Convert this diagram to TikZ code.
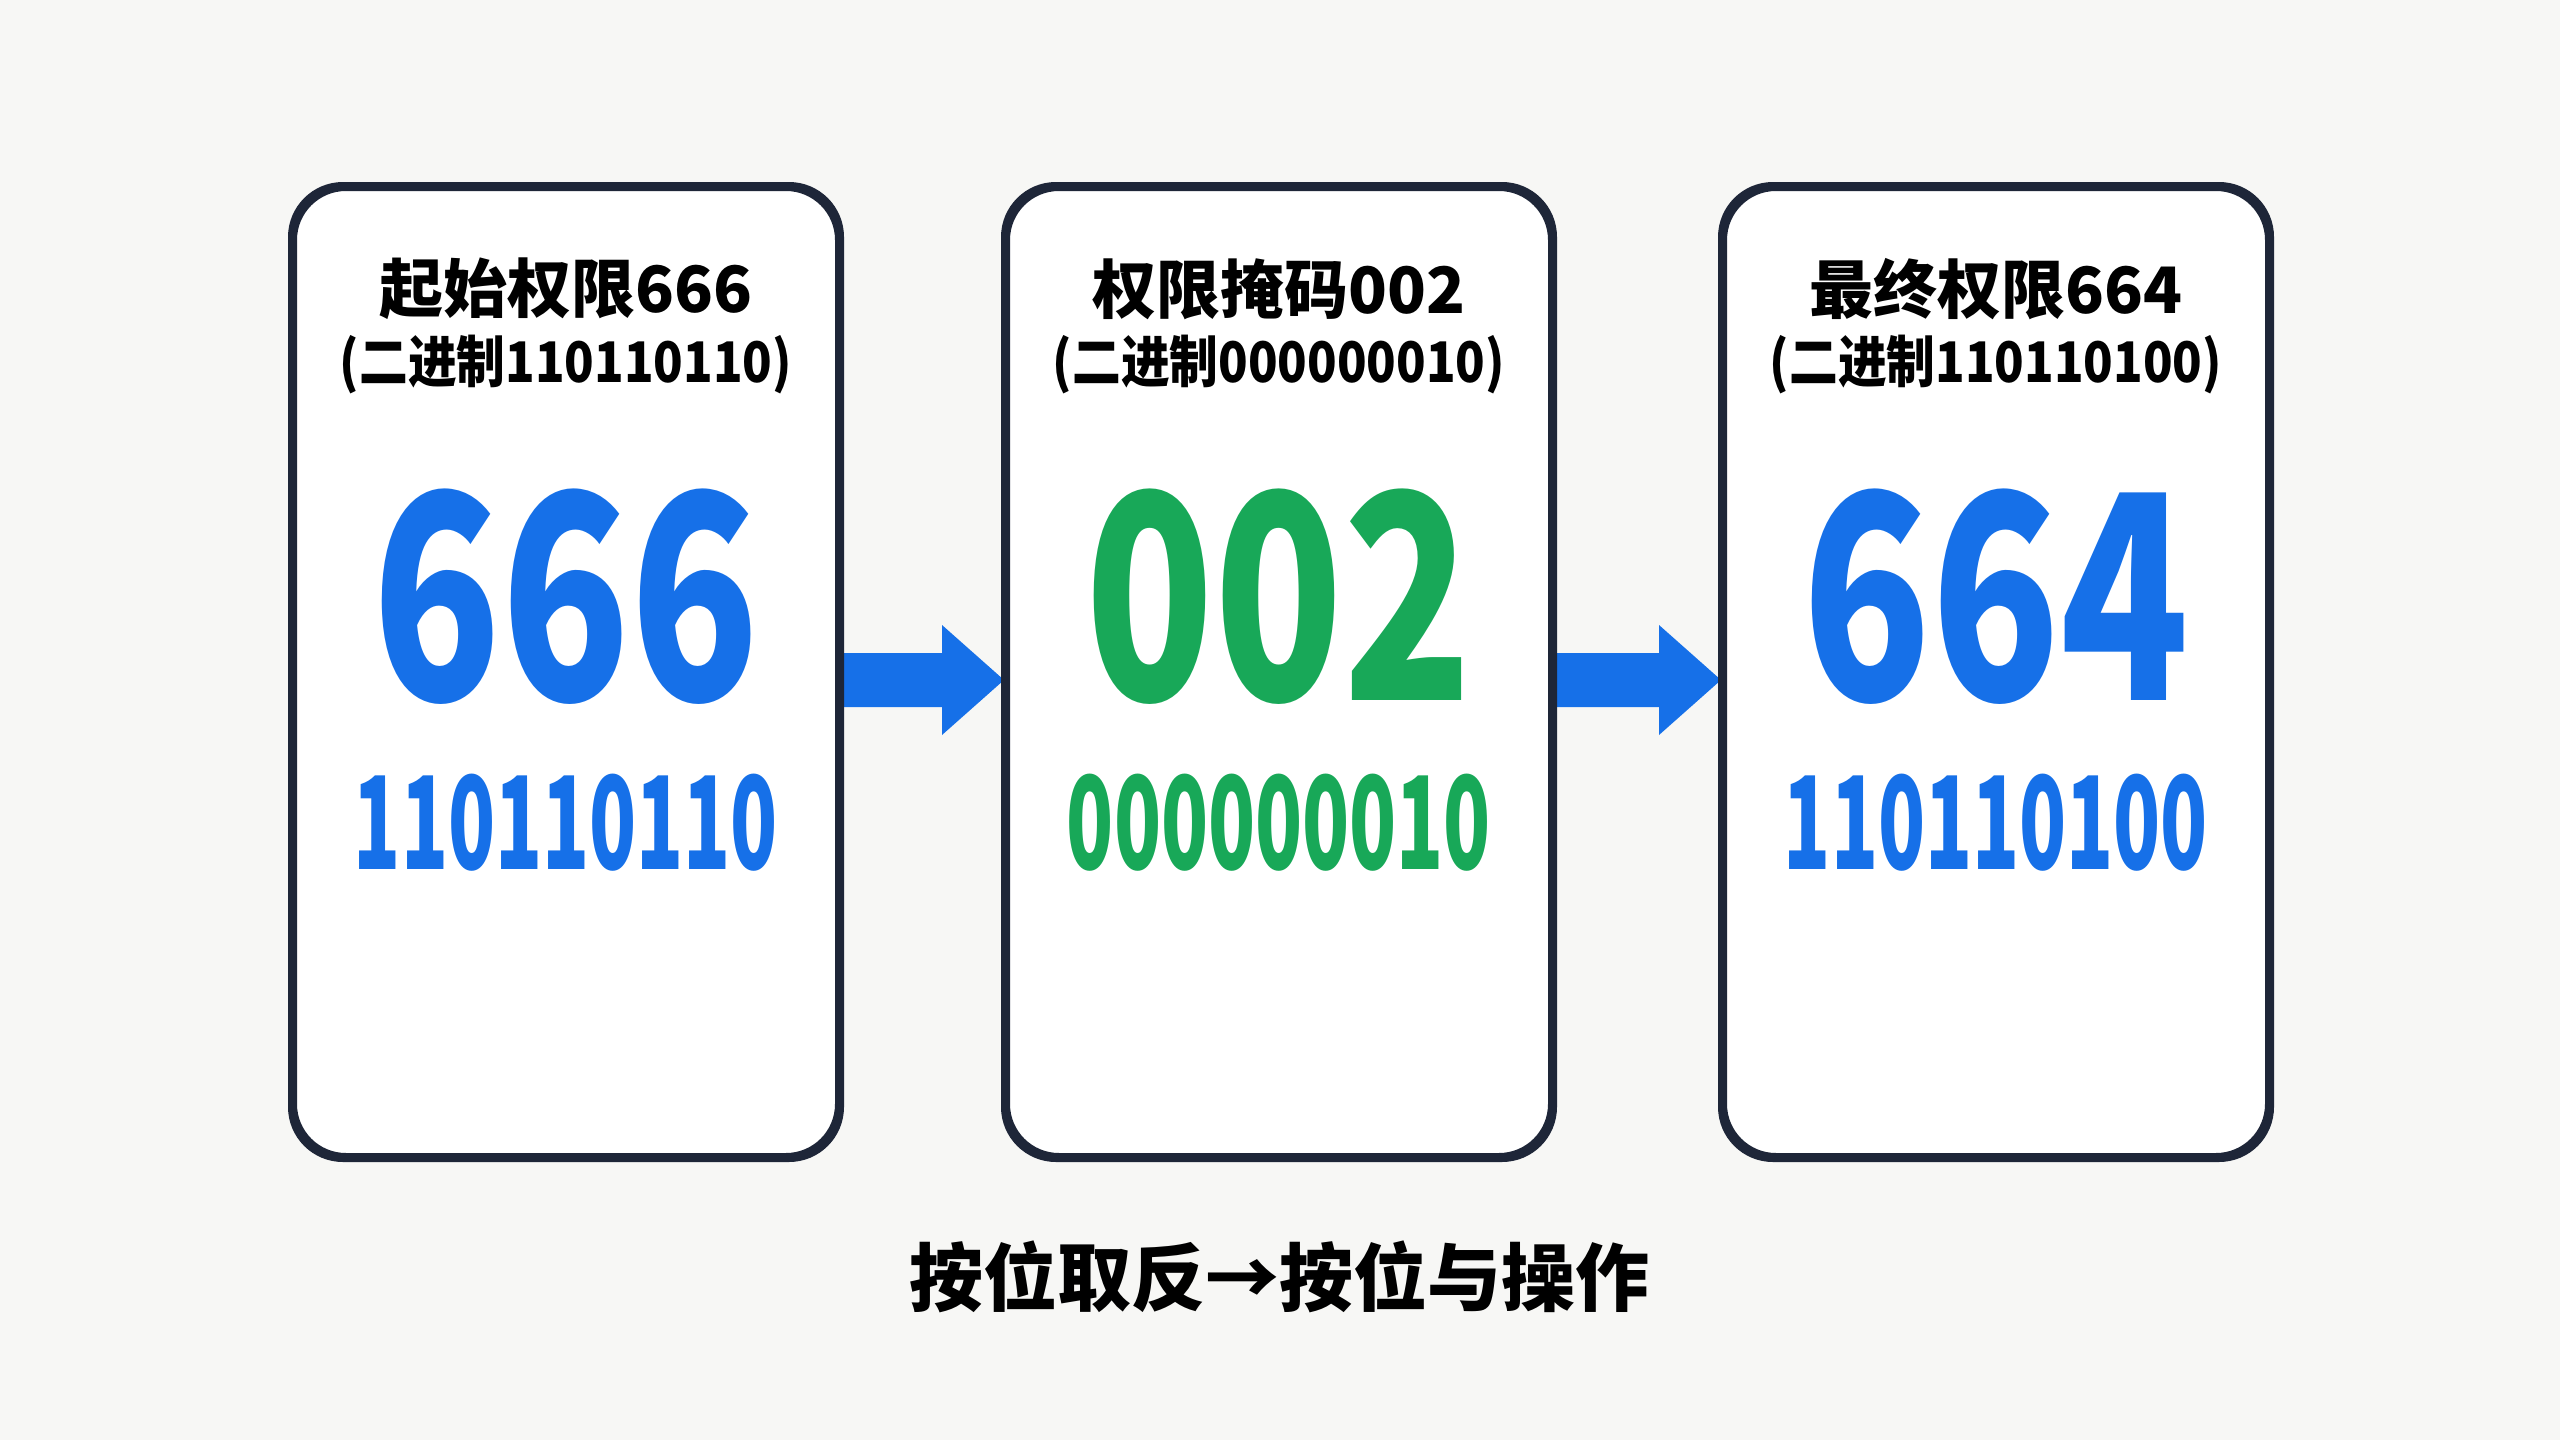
\documentclass[tikz,border=0pt]{standalone}
\usepackage{fontspec}
\newfontfamily\cjk{Noto Sans CJK SC}
\newfontfamily\cjkblack{Noto Sans CJK SC Black}
\usetikzlibrary{calc}
\definecolor{bg}{HTML}{F7F7F5}
\definecolor{frame}{HTML}{1E2638}
\definecolor{bblue}{HTML}{1670E8}
\definecolor{bgreen}{HTML}{18A858}
\tikzset{
  card/.style={draw=frame, line width=6pt, fill=white, rounded corners=52pt,
    minimum width=544pt, minimum height=968pt, inner sep=0pt},
  cardline/.style={draw=frame, line width=6pt, rounded corners=52pt},
  titleA/.style={font=\cjk\bfseries\fontsize{64}{64}\selectfont, text=black, inner sep=0pt},
  titleB/.style={font=\cjk\bfseries\fontsize{56}{56}\selectfont, text=black, inner sep=0pt},
  bignum/.style={font=\cjkblack\fontsize{286}{286}\selectfont, inner sep=0pt},
  binnum/.style={font=\cjk\bfseries\fontsize{129}{129}\selectfont, inner sep=0pt},
  caption/.style={font=\cjk\bfseries\fontsize{74}{74}\selectfont, text=black, inner sep=0pt},
  flowarrow/.style={fill=bblue}
}
\newcommand{\cond}[2]{\scalebox{#1}[1]{#2}}
\begin{document}
\begin{tikzpicture}[x=1pt,y=-1pt]
\fill[bg] (0,0) rectangle (2560,1440);
\useasboundingbox (0,0) rectangle (2560,1440);
% cards
\node[card] (b1) at (566,672) {};
\node[card] (b2) at (1279,672) {};
\node[card] (b3) at (1996,672) {};
% arrows
\coordinate (a1s) at ($(b1.east)+(0,8)$);
\coordinate (a1e) at ($(b2.west)+(0,8)$);
\fill[flowarrow] ($(a1s)+(0,-27)$) -- ($(a1e)+(-62,-27)$) -- ($(a1e)+(-62,-55)$) -- (a1e)
  -- ($(a1e)+(-62,55)$) -- ($(a1e)+(-62,27)$) -- ($(a1s)+(0,27)$) -- cycle;
\coordinate (a2s) at ($(b2.east)+(0,8)$);
\coordinate (a2e) at ($(b3.west)+(0,8)$);
\fill[flowarrow] ($(a2s)+(0,-27)$) -- ($(a2e)+(-62,-27)$) -- ($(a2e)+(-62,-55)$) -- (a2e)
  -- ($(a2e)+(-62,55)$) -- ($(a2e)+(-62,27)$) -- ($(a2s)+(0,27)$) -- cycle;
% redraw card borders over arrow ends
\draw[cardline] (b1.north west) rectangle (b1.south east);
\draw[cardline] (b2.north west) rectangle (b2.south east);
\draw[cardline] (b3.north west) rectangle (b3.south east);
% card 1
\node[titleA] (t1a) at (566,289) {起始权限666};
\node[titleB] (t1b) at (566,365) {\cond{0.87}{(二进制110110110)}};
\node[bignum, text=bblue] (n1) at (566,597) {\cond{0.74}{666}};
\node[binnum, text=bblue] (m1) at (566,823) {\cond{0.6}{110110110}};
% card 2
\node[titleA] (t2a) at (1279,289) {权限掩码002};
\node[titleB] (t2b) at (1279,365) {\cond{0.87}{(二进制000000010)}};
\node[bignum, text=bgreen] (n2) at (1279,597) {\cond{0.74}{002}};
\node[binnum, text=bgreen] (m2) at (1279,823) {\cond{0.6}{000000010}};
% card 3
\node[titleA] (t3a) at (1996,289) {最终权限664};
\node[titleB] (t3b) at (1996,365) {\cond{0.87}{(二进制110110100)}};
\node[bignum, text=bblue] (n3) at (1996,597) {\cond{0.74}{664}};
\node[binnum, text=bblue] (m3) at (1996,823) {\cond{0.6}{110110100}};
% caption
\node[caption] (cap) at (1279,1277) {按位取反→按位与操作};
\end{tikzpicture}
\end{document}
